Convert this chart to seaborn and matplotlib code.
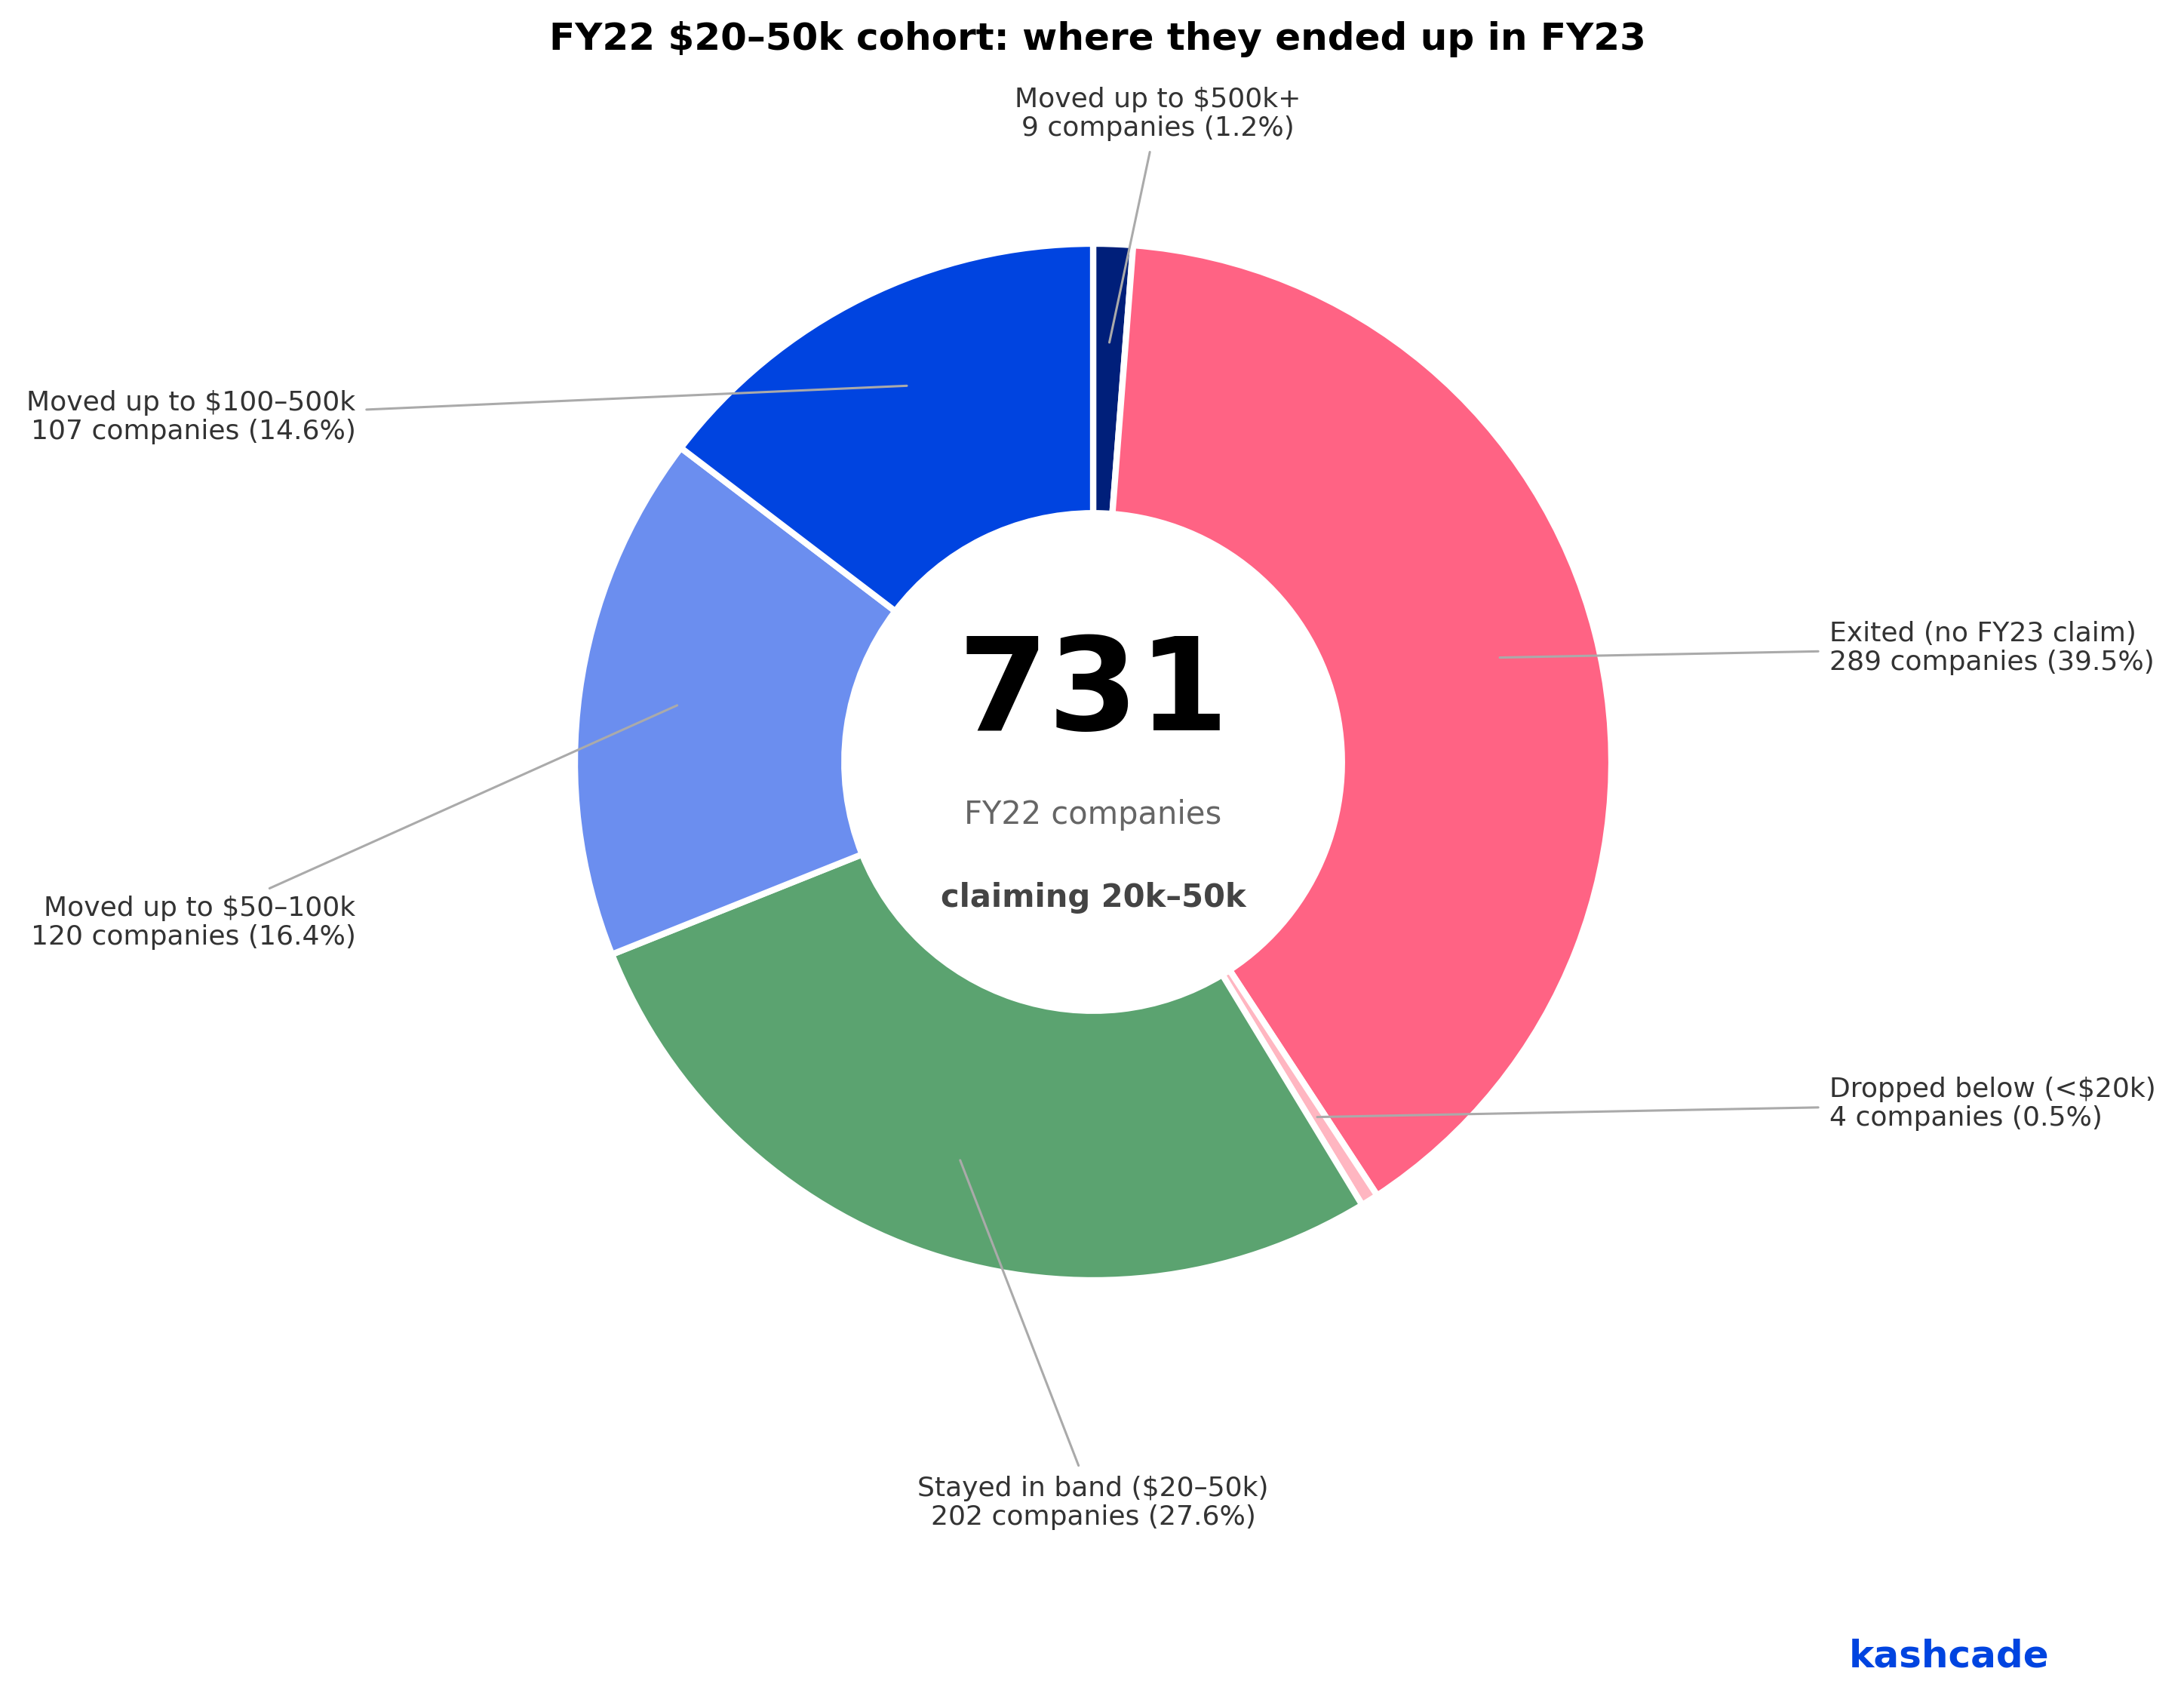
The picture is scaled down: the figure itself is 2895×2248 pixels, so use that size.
import numpy as np
import matplotlib
matplotlib.use("Agg")
import matplotlib.pyplot as plt
import seaborn as sns

sns.set_theme(style="white")
plt.rcParams['font.family'] = ['DejaVu Sans']

# ---- data ----
categories = [
    "Moved up to $500k+",
    "Exited (no FY23 claim)",
    "Dropped below (<$20k)",
    "Stayed in band ($20–50k)",
    "Moved up to $50–100k",
    "Moved up to $100–500k",
]
counts = [9, 289, 4, 202, 120, 107]
colors = ["#001F7A", "#FF6384", "#FFB6C1", "#5BA370", "#6B8EEF", "#0044E0"]
total = sum(counts)
title = "FY22 $20–50k cohort: where they ended up in FY23"
center_number = str(total)
center_line1 = "FY22 companies"
center_line2 = "claiming 20k–50k"
brand = "kashcade"

# ---- layout (label text positions, data units) ----
label_pos = [(0.125, 1.25), (1.42, 0.22), (1.42, -0.66),
             (0.0, -1.43), (-1.423, -0.31), (-1.423, 0.665)]
label_ha = ["center", "left", "left", "center", "right", "right"]

W, H, DPI = 2895, 2248, 200
fig = plt.figure(figsize=(W / DPI, H / DPI), dpi=DPI)
ax = fig.add_axes([0, 0, 1, 1])

wedges, _ = ax.pie(counts, colors=colors, startangle=90, counterclock=False,
                   radius=1.0,
                   wedgeprops=dict(width=0.52, edgecolor="white", linewidth=3))

for w, name, c, pos, ha in zip(wedges, categories, counts, label_pos, label_ha):
    ang = np.deg2rad((w.theta1 + w.theta2) / 2)
    anchor = (0.81 * np.cos(ang), 0.81 * np.sin(ang))
    pct = c / total * 100
    txt = f"{name}\n{c} companies ({pct:.1f}%)"
    ax.annotate(txt, xy=anchor, xytext=pos, ha=ha, va="center",
                fontsize=13, color="#333333", linespacing=1.15,
                arrowprops=dict(arrowstyle="-", color="#aaaaaa", lw=1.1,
                                shrinkA=3, shrinkB=0))

ax.text(0, 0.061, center_number, ha="center", va="baseline",
        fontsize=62, fontweight="bold", color="black")
ax.text(0, -0.119, center_line1, ha="center", va="baseline",
        fontsize=15, color="#666666")
ax.text(0, -0.279, center_line2, ha="center", va="baseline",
        fontsize=15, fontweight="bold", color="#444444")

ax.set_aspect("auto")
ax.set_xlim(-1449 / 687, (W - 1449) / 687)
ax.set_ylim(-(H - 1010) / 687, 1010 / 687)
ax.axis("off")

fig.text(1455 / W, 1 - 52 / H, title, ha="center", va="center",
         fontsize=18, fontweight="bold", color="black")
fig.text(2716 / W, 1 - 2209 / H, brand, ha="right", va="baseline",
         fontsize=18, fontweight="bold", color="#0044E0")

fig.savefig("out.png", dpi=DPI, facecolor="white")
